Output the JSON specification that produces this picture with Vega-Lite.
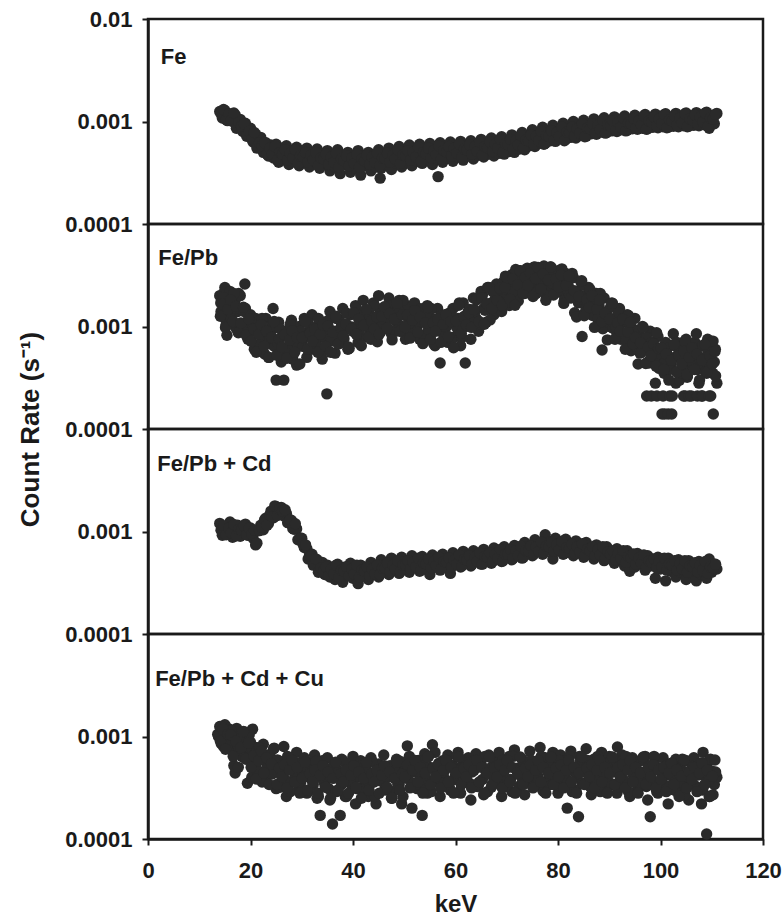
{
"$schema": "https://vega.github.io/schema/vega-lite/v6.json",
"background": "white",
"padding": {"left": 16, "top": 6, "right": 20, "bottom": 0},
"spacing": 0,
"bounds": "flush",
"config": {
 "font": "Liberation Sans",
 "view": {"stroke": "#1a1a1a", "strokeWidth": 2.5},
 "axis": {"labelFont": "Liberation Sans", "labelFontWeight": "bold", "labelFontSize": 22, "labelColor": "#1a1a1a", "titleFont": "Liberation Sans", "titleFontWeight": "bold", "titleFontSize": 26, "titleColor": "#1a1a1a", "tickColor": "#1a1a1a", "tickWidth": 2, "tickSize": 6, "domainColor": "#1a1a1a", "domainWidth": 2.5, "grid": false},
 "concat": {"spacing": 0}
},
"datasets": {
"fe": [
{"k":14.0,"c":12.5e-4},{"k":14.5,"c":10.8e-4},{"k":15.0,"c":12.8e-4},{"k":15.5,"c":10.2e-4},{"k":16.0,"c":11.8e-4},{"k":16.5,"c":10.0e-4},{"k":17.0,"c":11.6e-4},{"k":17.5,"c":9.0e-4},{"k":18.0,"c":10.5e-4},{"k":18.5,"c":8.0e-4},{"k":19.0,"c":9.6e-4},{"k":19.5,"c":7.2e-4},{"k":20.0,"c":8.6e-4},{"k":20.5,"c":6.3e-4},{"k":21.0,"c":7.5e-4},{"k":21.5,"c":5.6e-4},{"k":22.0,"c":7.0e-4},{"k":22.5,"c":5.0e-4},{"k":23.0,"c":6.2e-4},{"k":23.5,"c":4.6e-4},{"k":24.0,"c":5.9e-4},{"k":24.5,"c":4.4e-4},{"k":25.0,"c":6.0e-4},{"k":25.5,"c":4.0e-4},{"k":26.0,"c":5.5e-4},{"k":26.5,"c":4.2e-4},{"k":27.0,"c":5.8e-4},{"k":27.5,"c":3.8e-4},{"k":28.0,"c":5.2e-4},{"k":28.5,"c":4.3e-4},{"k":29.0,"c":5.6e-4},{"k":29.5,"c":3.7e-4},{"k":30.0,"c":5.1e-4},{"k":30.5,"c":4.0e-4},{"k":31.0,"c":5.5e-4},{"k":31.5,"c":3.6e-4},{"k":32.0,"c":4.9e-4},{"k":32.5,"c":4.1e-4},{"k":33.0,"c":5.4e-4},{"k":33.5,"c":3.5e-4},{"k":34.0,"c":4.8e-4},{"k":34.5,"c":3.9e-4},{"k":35.0,"c":5.2e-4},{"k":35.5,"c":3.3e-4},{"k":36.0,"c":4.6e-4},{"k":36.5,"c":3.6e-4},{"k":37.0,"c":5.3e-4},{"k":37.5,"c":3.1e-4},{"k":38.0,"c":4.5e-4},{"k":38.5,"c":3.8e-4},{"k":39.0,"c":5.0e-4},{"k":39.5,"c":3.2e-4},{"k":40.0,"c":4.4e-4},{"k":40.5,"c":3.5e-4},{"k":41.0,"c":5.2e-4},{"k":41.5,"c":3.0e-4},{"k":42.0,"c":4.6e-4},{"k":42.5,"c":3.7e-4},{"k":43.0,"c":5.0e-4},{"k":43.5,"c":3.3e-4},{"k":44.0,"c":4.7e-4},{"k":44.5,"c":3.6e-4},{"k":45.0,"c":5.3e-4},{"k":45.3,"c":2.8e-4},{"k":45.5,"c":3.5e-4},{"k":46.0,"c":4.8e-4},{"k":46.5,"c":3.7e-4},{"k":47.0,"c":5.5e-4},{"k":47.5,"c":3.4e-4},{"k":48.0,"c":4.9e-4},{"k":48.5,"c":3.9e-4},{"k":49.0,"c":5.7e-4},{"k":49.5,"c":3.6e-4},{"k":50.0,"c":5.0e-4},{"k":50.5,"c":4.0e-4},{"k":51.0,"c":5.9e-4},{"k":51.5,"c":3.7e-4},{"k":52.0,"c":5.1e-4},{"k":52.5,"c":4.1e-4},{"k":53.0,"c":6.0e-4},{"k":53.5,"c":3.9e-4},{"k":54.0,"c":5.2e-4},{"k":54.5,"c":4.2e-4},{"k":55.0,"c":6.1e-4},{"k":55.5,"c":3.8e-4},{"k":56.0,"c":5.3e-4},{"k":56.5,"c":4.3e-4},{"k":56.6,"c":2.9e-4},{"k":57.0,"c":6.2e-4},{"k":57.5,"c":4.0e-4},{"k":58.0,"c":5.4e-4},{"k":58.5,"c":4.4e-4},{"k":59.0,"c":6.3e-4},{"k":59.5,"c":4.1e-4},{"k":60.0,"c":5.5e-4},{"k":60.5,"c":4.5e-4},{"k":61.0,"c":6.4e-4},{"k":61.5,"c":4.2e-4},{"k":62.0,"c":5.6e-4},{"k":62.5,"c":4.6e-4},{"k":63.0,"c":6.5e-4},{"k":63.5,"c":4.3e-4},{"k":64.0,"c":5.7e-4},{"k":64.5,"c":4.7e-4},{"k":65.0,"c":6.7e-4},{"k":65.5,"c":4.5e-4},{"k":66.0,"c":5.9e-4},{"k":66.5,"c":4.8e-4},{"k":67.0,"c":6.9e-4},{"k":67.5,"c":4.6e-4},{"k":68.0,"c":6.0e-4},{"k":68.5,"c":4.9e-4},{"k":69.0,"c":7.1e-4},{"k":69.5,"c":4.8e-4},{"k":70.0,"c":6.2e-4},{"k":70.5,"c":5.1e-4},{"k":71.0,"c":7.4e-4},{"k":71.5,"c":5.0e-4},{"k":72.0,"c":6.5e-4},{"k":72.5,"c":5.4e-4},{"k":73.0,"c":7.8e-4},{"k":73.5,"c":5.3e-4},{"k":74.0,"c":6.9e-4},{"k":74.5,"c":5.8e-4},{"k":75.0,"c":8.3e-4},{"k":75.5,"c":5.7e-4},{"k":76.0,"c":7.3e-4},{"k":76.5,"c":6.2e-4},{"k":77.0,"c":8.8e-4},{"k":77.5,"c":6.1e-4},{"k":78.0,"c":7.7e-4},{"k":78.5,"c":6.5e-4},{"k":79.0,"c":9.2e-4},{"k":79.5,"c":6.4e-4},{"k":80.0,"c":8.0e-4},{"k":80.5,"c":6.8e-4},{"k":81.0,"c":9.6e-4},{"k":81.5,"c":6.7e-4},{"k":82.0,"c":8.3e-4},{"k":82.5,"c":7.0e-4},{"k":83.0,"c":10.0e-4},{"k":83.5,"c":6.9e-4},{"k":84.0,"c":8.6e-4},{"k":84.5,"c":7.3e-4},{"k":85.0,"c":10.3e-4},{"k":85.5,"c":7.2e-4},{"k":86.0,"c":8.9e-4},{"k":86.5,"c":7.6e-4},{"k":87.0,"c":10.6e-4},{"k":87.5,"c":7.5e-4},{"k":88.0,"c":9.1e-4},{"k":88.5,"c":7.9e-4},{"k":89.0,"c":10.9e-4},{"k":89.5,"c":7.8e-4},{"k":90.0,"c":9.4e-4},{"k":90.5,"c":8.1e-4},{"k":91.0,"c":11.1e-4},{"k":91.5,"c":8.0e-4},{"k":92.0,"c":9.6e-4},{"k":92.5,"c":8.3e-4},{"k":93.0,"c":11.3e-4},{"k":93.5,"c":8.2e-4},{"k":94.0,"c":9.8e-4},{"k":94.5,"c":8.5e-4},{"k":95.0,"c":11.5e-4},{"k":95.5,"c":8.4e-4},{"k":96.0,"c":10.0e-4},{"k":96.5,"c":8.6e-4},{"k":97.0,"c":11.7e-4},{"k":97.5,"c":8.5e-4},{"k":98.0,"c":10.1e-4},{"k":98.5,"c":8.8e-4},{"k":99.0,"c":11.8e-4},{"k":99.5,"c":8.7e-4},{"k":100.0,"c":10.3e-4},{"k":100.5,"c":8.9e-4},{"k":101.0,"c":11.9e-4},{"k":101.5,"c":8.8e-4},{"k":102.0,"c":10.4e-4},{"k":102.5,"c":9.0e-4},{"k":103.0,"c":12.0e-4},{"k":103.5,"c":8.9e-4},{"k":104.0,"c":10.5e-4},{"k":104.5,"c":9.1e-4},{"k":105.0,"c":12.1e-4},{"k":105.5,"c":9.0e-4},{"k":106.0,"c":10.6e-4},{"k":106.5,"c":9.2e-4},{"k":107.0,"c":12.2e-4},{"k":107.5,"c":9.1e-4},{"k":108.0,"c":10.7e-4},{"k":108.5,"c":9.3e-4},{"k":109.0,"c":12.3e-4},{"k":109.5,"c":8.6e-4},{"k":110.0,"c":11.2e-4},{"k":110.5,"c":9.5e-4},{"k":111.0,"c":12.0e-4},
{"k":14.25,"c":11.9e-4},{"k":14.75,"c":13.1e-4},{"k":15.25,"c":10.4e-4},{"k":15.75,"c":11.9e-4},{"k":16.25,"c":10.3e-4},{"k":16.75,"c":12.1e-4},{"k":17.25,"c":8.6e-4},{"k":17.75,"c":9.8e-4},{"k":18.25,"c":9.0e-4},{"k":18.75,"c":9.5e-4},{"k":19.25,"c":7.2e-4},{"k":19.75,"c":8.0e-4},{"k":20.25,"c":6.7e-4},{"k":20.75,"c":7.8e-4},{"k":21.25,"c":5.5e-4},{"k":21.75,"c":6.2e-4},{"k":22.25,"c":5.8e-4},{"k":22.75,"c":6.2e-4},{"k":23.25,"c":4.8e-4},{"k":23.75,"c":5.5e-4},{"k":24.25,"c":4.8e-4},{"k":24.75,"c":5.7e-4},{"k":25.25,"c":4.2e-4},{"k":25.75,"c":5.0e-4},{"k":26.25,"c":4.8e-4},{"k":26.75,"c":5.3e-4},{"k":27.25,"c":4.2e-4},{"k":27.75,"c":4.9e-4},{"k":28.25,"c":4.4e-4},{"k":28.75,"c":5.3e-4},{"k":29.25,"c":3.9e-4},{"k":29.75,"c":4.6e-4},{"k":30.25,"c":4.5e-4},{"k":30.75,"c":5.0e-4},{"k":31.25,"c":4.0e-4},{"k":31.75,"c":4.7e-4},{"k":32.25,"c":4.2e-4},{"k":32.75,"c":5.0e-4},{"k":33.25,"c":3.7e-4},{"k":33.75,"c":4.4e-4},{"k":34.25,"c":4.3e-4},{"k":34.75,"c":4.8e-4},{"k":35.25,"c":3.8e-4},{"k":35.75,"c":4.5e-4},{"k":36.25,"c":4.0e-4},{"k":36.75,"c":4.9e-4},{"k":37.25,"c":3.6e-4},{"k":37.75,"c":4.3e-4},{"k":38.25,"c":4.15e-4},{"k":38.75,"c":4.6e-4},{"k":39.25,"c":3.7e-4},{"k":39.75,"c":4.4e-4},{"k":40.25,"c":3.9e-4},{"k":40.75,"c":4.8e-4},{"k":41.25,"c":3.6e-4},{"k":41.75,"c":4.3e-4},{"k":42.25,"c":4.15e-4},{"k":42.75,"c":4.7e-4},{"k":43.25,"c":3.8e-4},{"k":43.75,"c":4.5e-4},{"k":44.25,"c":4.0e-4},{"k":44.75,"c":4.9e-4},{"k":45.25,"c":3.7e-4},{"k":45.75,"c":4.4e-4},{"k":46.25,"c":4.35e-4},{"k":46.75,"c":4.9e-4},{"k":47.25,"c":4.0e-4},{"k":47.75,"c":4.7e-4},{"k":48.25,"c":4.3e-4},{"k":48.75,"c":5.3e-4},{"k":49.25,"c":3.9e-4},{"k":49.75,"c":4.7e-4},{"k":50.25,"c":4.6e-4},{"k":50.75,"c":5.2e-4},{"k":51.25,"c":4.2e-4},{"k":51.75,"c":5.0e-4},{"k":52.25,"c":4.5e-4},{"k":52.75,"c":5.6e-4},{"k":53.25,"c":4.1e-4},{"k":53.75,"c":5.0e-4},{"k":54.25,"c":4.85e-4},{"k":54.75,"c":5.5e-4},{"k":55.25,"c":4.4e-4},{"k":55.75,"c":5.2e-4},{"k":56.25,"c":4.7e-4},{"k":56.75,"c":5.8e-4},{"k":57.25,"c":4.3e-4},{"k":57.75,"c":5.2e-4},{"k":58.25,"c":5.05e-4},{"k":58.75,"c":5.7e-4},{"k":59.25,"c":4.6e-4},{"k":59.75,"c":5.5e-4},{"k":60.25,"c":4.9e-4},{"k":60.75,"c":6.0e-4},{"k":61.25,"c":4.5e-4},{"k":61.75,"c":5.4e-4},{"k":62.25,"c":5.25e-4},{"k":62.75,"c":5.9e-4},{"k":63.25,"c":4.8e-4},{"k":63.75,"c":5.7e-4},{"k":64.25,"c":5.1e-4},{"k":64.75,"c":6.3e-4},{"k":65.25,"c":4.7e-4},{"k":65.75,"c":5.7e-4},{"k":66.25,"c":5.55e-4},{"k":66.75,"c":6.3e-4},{"k":67.25,"c":5.1e-4},{"k":67.75,"c":6.0e-4},{"k":68.25,"c":5.5e-4},{"k":68.75,"c":6.7e-4},{"k":69.25,"c":5.0e-4},{"k":69.75,"c":6.1e-4},{"k":70.25,"c":5.95e-4},{"k":70.75,"c":6.7e-4},{"k":71.25,"c":5.4e-4},{"k":71.75,"c":6.5e-4},{"k":72.25,"c":5.9e-4},{"k":72.75,"c":7.3e-4},{"k":73.25,"c":5.5e-4},{"k":73.75,"c":6.6e-4},{"k":74.25,"c":6.5e-4},{"k":74.75,"c":7.4e-4},{"k":75.25,"c":6.0e-4},{"k":75.75,"c":7.2e-4},{"k":76.25,"c":6.5e-4},{"k":76.75,"c":8.0e-4},{"k":77.25,"c":6.0e-4},{"k":77.75,"c":7.3e-4},{"k":78.25,"c":7.15e-4},{"k":78.75,"c":8.1e-4},{"k":79.25,"c":6.6e-4},{"k":79.75,"c":7.8e-4},{"k":80.25,"c":7.1e-4},{"k":80.75,"c":8.8e-4},{"k":81.25,"c":6.5e-4},{"k":81.75,"c":7.9e-4},{"k":82.25,"c":7.8e-4},{"k":82.75,"c":8.8e-4},{"k":83.25,"c":7.2e-4},{"k":83.75,"c":8.5e-4},{"k":84.25,"c":7.7e-4},{"k":84.75,"c":9.5e-4},{"k":85.25,"c":7.1e-4},{"k":85.75,"c":8.6e-4},{"k":86.25,"c":8.45e-4},{"k":86.75,"c":9.5e-4},{"k":87.25,"c":7.7e-4},{"k":87.75,"c":9.2e-4},{"k":88.25,"c":8.3e-4},{"k":88.75,"c":10.3e-4},{"k":89.25,"c":7.7e-4},{"k":89.75,"c":9.2e-4},{"k":90.25,"c":9.05e-4},{"k":90.75,"c":10.2e-4},{"k":91.25,"c":8.2e-4},{"k":91.75,"c":9.8e-4},{"k":92.25,"c":8.8e-4},{"k":92.75,"c":10.8e-4},{"k":93.25,"c":8.1e-4},{"k":93.75,"c":9.7e-4},{"k":94.25,"c":9.5e-4},{"k":94.75,"c":10.7e-4},{"k":95.25,"c":8.6e-4},{"k":95.75,"c":10.2e-4},{"k":96.25,"c":9.2e-4},{"k":96.75,"c":11.3e-4},{"k":97.25,"c":8.4e-4},{"k":97.75,"c":10.1e-4},{"k":98.25,"c":9.9e-4},{"k":98.75,"c":11.1e-4},{"k":99.25,"c":9.0e-4},{"k":99.75,"c":10.6e-4},{"k":100.25,"c":9.5e-4},{"k":100.75,"c":11.7e-4},{"k":101.25,"c":8.7e-4},{"k":101.75,"c":10.4e-4},{"k":102.25,"c":10.15e-4},{"k":102.75,"c":11.4e-4},{"k":103.25,"c":9.2e-4},{"k":103.75,"c":10.8e-4},{"k":104.25,"c":9.7e-4},{"k":104.75,"c":11.9e-4},{"k":105.25,"c":8.9e-4},{"k":105.75,"c":10.6e-4},{"k":106.25,"c":10.35e-4},{"k":106.75,"c":11.6e-4},{"k":107.25,"c":9.4e-4},{"k":107.75,"c":11.0e-4},{"k":108.25,"c":9.9e-4},{"k":108.75,"c":12.1e-4},{"k":109.25,"c":9.0e-4},{"k":109.75,"c":10.8e-4},{"k":110.25,"c":10.5e-4},{"k":110.75,"c":11.8e-4}
],
"fepb": [
{"k":14.0,"c":20e-4},{"k":14.2,"c":17e-4},{"k":14.5,"c":13e-4},{"k":14.7,"c":21e-4},{"k":15.0,"c":24e-4},{"k":15.2,"c":12e-4},{"k":15.4,"c":8.2e-4},{"k":15.5,"c":16e-4},{"k":15.7,"c":19e-4},{"k":16.0,"c":22e-4},{"k":16.2,"c":14e-4},{"k":16.5,"c":11e-4},{"k":16.7,"c":17e-4},{"k":17.0,"c":18e-4},{"k":17.2,"c":10e-4},{"k":17.5,"c":14e-4},{"k":17.7,"c":21e-4},{"k":18.0,"c":20e-4},{"k":18.5,"c":9.5e-4},{"k":18.9,"c":26e-4},{"k":19.0,"c":15e-4},{"k":19.5,"c":7.5e-4},{"k":20.0,"c":13e-4},{"k":20.5,"c":9e-4},{"k":21.0,"c":12e-4},{"k":21.5,"c":6e-4},{"k":22.0,"c":10e-4},{"k":22.5,"c":7.5e-4},{"k":23.0,"c":12e-4},{"k":23.5,"c":5e-4},{"k":24.0,"c":9e-4},{"k":24.4,"c":15e-4},{"k":24.5,"c":6.5e-4},{"k":25.0,"c":3.0e-4},{"k":25.5,"c":11e-4},{"k":26.0,"c":4.5e-4},{"k":26.5,"c":3.0e-4},{"k":27.0,"c":9e-4},{"k":27.5,"c":5.5e-4},{"k":28.0,"c":11.5e-4},{"k":28.5,"c":6.5e-4},{"k":29.0,"c":4.2e-4},{"k":29.5,"c":10e-4},{"k":30.0,"c":7e-4},{"k":30.5,"c":12e-4},{"k":31.0,"c":5e-4},{"k":31.5,"c":9e-4},{"k":32.0,"c":13e-4},{"k":32.5,"c":6e-4},{"k":33.0,"c":10e-4},{"k":33.5,"c":8e-4},{"k":34.0,"c":4.8e-4},{"k":34.5,"c":11e-4},{"k":34.9,"c":2.2e-4},{"k":35.0,"c":7e-4},{"k":35.5,"c":14e-4},{"k":36.0,"c":9e-4},{"k":36.5,"c":5.5e-4},{"k":37.0,"c":12e-4},{"k":37.5,"c":8e-4},{"k":38.0,"c":15e-4},{"k":38.5,"c":10e-4},{"k":39.0,"c":6e-4},{"k":39.5,"c":13e-4},{"k":40.0,"c":9e-4},{"k":40.5,"c":16e-4},{"k":41.0,"c":7e-4},{"k":41.5,"c":12e-4},{"k":42.0,"c":18e-4},{"k":42.5,"c":10e-4},{"k":43.0,"c":14e-4},{"k":43.5,"c":7.5e-4},{"k":44.0,"c":17e-4},{"k":44.5,"c":11e-4},{"k":45.0,"c":20e-4},{"k":45.5,"c":9e-4},{"k":46.0,"c":15e-4},{"k":46.5,"c":12e-4},{"k":47.0,"c":19e-4},{"k":47.5,"c":8.5e-4},{"k":48.0,"c":14e-4},{"k":48.5,"c":11e-4},{"k":49.0,"c":18e-4},{"k":49.5,"c":9e-4},{"k":50.0,"c":13e-4},{"k":50.5,"c":16e-4},{"k":51.0,"c":8e-4},{"k":51.5,"c":12e-4},{"k":52.0,"c":17e-4},{"k":52.5,"c":10e-4},{"k":53.0,"c":7.5e-4},{"k":53.5,"c":14e-4},{"k":54.0,"c":11e-4},{"k":54.5,"c":16e-4},{"k":55.0,"c":8e-4},{"k":55.5,"c":12e-4},{"k":56.0,"c":6.5e-4},{"k":56.5,"c":15e-4},{"k":57.0,"c":4.4e-4},{"k":57.5,"c":10e-4},{"k":58.0,"c":13e-4},{"k":58.5,"c":7e-4},{"k":59.0,"c":11e-4},{"k":59.5,"c":15e-4},{"k":60.0,"c":8e-4},{"k":60.5,"c":12e-4},{"k":61.0,"c":6.5e-4},{"k":61.5,"c":17e-4},{"k":61.9,"c":4.4e-4},{"k":62.0,"c":10e-4},{"k":62.5,"c":14e-4},{"k":63.0,"c":7.5e-4},{"k":63.5,"c":19e-4},{"k":64.0,"c":12e-4},{"k":64.5,"c":9e-4},{"k":65.0,"c":22e-4},{"k":65.5,"c":15e-4},{"k":66.0,"c":11e-4},{"k":66.5,"c":24e-4},{"k":67.0,"c":17e-4},{"k":67.5,"c":13e-4},{"k":68.0,"c":26e-4},{"k":68.5,"c":19e-4},{"k":69.0,"c":14e-4},{"k":69.5,"c":28e-4},{"k":70.0,"c":21e-4},{"k":70.5,"c":16e-4},{"k":71.0,"c":32e-4},{"k":71.5,"c":24e-4},{"k":72.0,"c":19e-4},{"k":72.5,"c":35e-4},{"k":73.0,"c":27e-4},{"k":73.5,"c":21e-4},{"k":74.0,"c":37e-4},{"k":74.5,"c":29e-4},{"k":75.0,"c":23e-4},{"k":75.5,"c":38e-4},{"k":76.0,"c":31e-4},{"k":76.5,"c":25e-4},{"k":77.0,"c":36e-4},{"k":77.5,"c":28e-4},{"k":78.0,"c":22e-4},{"k":78.5,"c":38e-4},{"k":79.0,"c":30e-4},{"k":79.5,"c":24e-4},{"k":80.0,"c":35e-4},{"k":80.5,"c":27e-4},{"k":81.0,"c":21e-4},{"k":81.5,"c":33e-4},{"k":82.0,"c":25e-4},{"k":82.5,"c":19e-4},{"k":83.0,"c":30e-4},{"k":83.5,"c":22e-4},{"k":84.0,"c":17e-4},{"k":84.5,"c":27e-4},{"k":84.7,"c":8e-4},{"k":85.0,"c":20e-4},{"k":85.5,"c":15e-4},{"k":86.0,"c":24e-4},{"k":86.5,"c":18e-4},{"k":87.0,"c":13e-4},{"k":87.5,"c":21e-4},{"k":88.0,"c":16e-4},{"k":88.5,"c":11e-4},{"k":88.6,"c":5.9e-4},{"k":89.0,"c":19e-4},{"k":89.5,"c":14e-4},{"k":90.0,"c":10e-4},{"k":90.5,"c":17e-4},{"k":91.0,"c":12e-4},{"k":91.5,"c":8.5e-4},{"k":92.0,"c":15e-4},{"k":92.5,"c":11e-4},{"k":93.0,"c":7.5e-4},{"k":93.5,"c":13e-4},{"k":94.0,"c":9.5e-4},{"k":94.5,"c":6.5e-4},{"k":95.0,"c":12e-4},{"k":95.5,"c":8.5e-4},{"k":96.0,"c":5.5e-4},{"k":96.5,"c":10e-4},{"k":97.0,"c":7.5e-4},{"k":97.3,"c":2.1e-4},{"k":97.5,"c":4.5e-4},{"k":98.0,"c":9e-4},{"k":98.2,"c":2.1e-4},{"k":98.5,"c":6e-4},{"k":99.0,"c":2.8e-4},{"k":99.3,"c":2.1e-4},{"k":99.5,"c":8e-4},{"k":100.0,"c":5e-4},{"k":100.2,"c":6e-4},{"k":100.3,"c":1.4e-4},{"k":100.5,"c":2.1e-4},{"k":100.7,"c":3.5e-4},{"k":100.8,"c":1.4e-4},{"k":101.0,"c":7e-4},{"k":101.2,"c":5.5e-4},{"k":101.5,"c":1.4e-4},{"k":101.7,"c":4e-4},{"k":101.8,"c":2.1e-4},{"k":102.0,"c":4.2e-4},{"k":102.2,"c":1.4e-4},{"k":102.3,"c":2.1e-4},{"k":102.5,"c":8.5e-4},{"k":102.7,"c":5e-4},{"k":103.0,"c":2.8e-4},{"k":103.2,"c":7e-4},{"k":103.5,"c":6e-4},{"k":103.7,"c":3e-4},{"k":104.0,"c":3.5e-4},{"k":104.2,"c":6.5e-4},{"k":104.5,"c":2.1e-4},{"k":104.7,"c":5e-4},{"k":104.8,"c":2.1e-4},{"k":105.0,"c":7.5e-4},{"k":105.2,"c":3.2e-4},{"k":105.5,"c":4.5e-4},{"k":105.6,"c":2.1e-4},{"k":105.7,"c":6e-4},{"k":106.0,"c":2.1e-4},{"k":106.2,"c":4e-4},{"k":106.5,"c":5.5e-4},{"k":106.7,"c":7e-4},{"k":107.0,"c":8.5e-4},{"k":107.2,"c":2.1e-4},{"k":107.5,"c":2.8e-4},{"k":107.7,"c":5e-4},{"k":108.0,"c":2.1e-4},{"k":108.2,"c":2.1e-4},{"k":108.5,"c":6.5e-4},{"k":108.7,"c":4e-4},{"k":109.0,"c":3.5e-4},{"k":109.2,"c":7.5e-4},{"k":109.5,"c":2.1e-4},{"k":109.7,"c":5e-4},{"k":109.8,"c":2.1e-4},{"k":110.0,"c":7e-4},{"k":110.2,"c":3.5e-4},{"k":110.3,"c":1.4e-4},{"k":110.5,"c":4.5e-4},{"k":110.7,"c":6e-4},{"k":111.0,"c":2.8e-4},
{"k":14.25,"c":14e-4},{"k":14.75,"c":19e-4},{"k":15.25,"c":10.5e-4},{"k":15.75,"c":17e-4},{"k":16.25,"c":12e-4},{"k":16.75,"c":21e-4},{"k":17.25,"c":9.5e-4},{"k":17.75,"c":15e-4},{"k":18.25,"c":10e-4},{"k":18.75,"c":14e-4},{"k":19.25,"c":8.8e-4},{"k":19.75,"c":11e-4},{"k":20.25,"c":10.8e-4},{"k":20.75,"c":6e-4},{"k":21.25,"c":9.6e-4},{"k":21.75,"c":6.8e-4},{"k":22.25,"c":12e-4},{"k":22.75,"c":5.4e-4},{"k":23.25,"c":8.8e-4},{"k":23.75,"c":7.4e-4},{"k":24.25,"c":10.2e-4},{"k":24.75,"c":6.4e-4},{"k":25.25,"c":7e-4},{"k":25.75,"c":9.5e-4},{"k":26.25,"c":5.2e-4},{"k":26.75,"c":8.4e-4},{"k":27.25,"c":6e-4},{"k":27.75,"c":10.5e-4},{"k":28.25,"c":4.8e-4},{"k":28.75,"c":7.7e-4},{"k":29.25,"c":6.4e-4},{"k":29.75,"c":9e-4},{"k":30.25,"c":6.4e-4},{"k":30.75,"c":8e-4},{"k":31.25,"c":10.8e-4},{"k":31.75,"c":6e-4},{"k":32.25,"c":9.6e-4},{"k":32.75,"c":6.8e-4},{"k":33.25,"c":12e-4},{"k":33.75,"c":5.4e-4},{"k":34.25,"c":8.8e-4},{"k":34.75,"c":7.4e-4},{"k":35.25,"c":11.5e-4},{"k":35.75,"c":7.2e-4},{"k":36.25,"c":9e-4},{"k":36.75,"c":12e-4},{"k":37.25,"c":6.8e-4},{"k":37.75,"c":10.8e-4},{"k":38.25,"c":7.6e-4},{"k":38.75,"c":13.5e-4},{"k":39.25,"c":6.1e-4},{"k":39.75,"c":9.9e-4},{"k":40.25,"c":9.7e-4},{"k":40.75,"c":13.4e-4},{"k":41.25,"c":8.4e-4},{"k":41.75,"c":10.5e-4},{"k":42.25,"c":14.2e-4},{"k":42.75,"c":7.9e-4},{"k":43.25,"c":12.6e-4},{"k":43.75,"c":8.9e-4},{"k":44.25,"c":15.8e-4},{"k":44.75,"c":7.1e-4},{"k":45.25,"c":13.2e-4},{"k":45.75,"c":11e-4},{"k":46.25,"c":15.4e-4},{"k":46.75,"c":9.6e-4},{"k":47.25,"c":12e-4},{"k":47.75,"c":16.2e-4},{"k":48.25,"c":9e-4},{"k":48.75,"c":14.4e-4},{"k":49.25,"c":10.2e-4},{"k":49.75,"c":18e-4},{"k":50.25,"c":7.5e-4},{"k":50.75,"c":12.1e-4},{"k":51.25,"c":10.1e-4},{"k":51.75,"c":14.1e-4},{"k":52.25,"c":8.8e-4},{"k":52.75,"c":11e-4},{"k":53.25,"c":14.9e-4},{"k":53.75,"c":8.2e-4},{"k":54.25,"c":13.2e-4},{"k":54.75,"c":9.4e-4},{"k":55.25,"c":15e-4},{"k":55.75,"c":6.8e-4},{"k":56.25,"c":11e-4},{"k":56.75,"c":9.2e-4},{"k":57.25,"c":12.8e-4},{"k":57.75,"c":8e-4},{"k":58.25,"c":10e-4},{"k":58.75,"c":13.5e-4},{"k":59.25,"c":7.5e-4},{"k":59.75,"c":12e-4},{"k":60.25,"c":9.8e-4},{"k":60.75,"c":17e-4},{"k":61.25,"c":7.8e-4},{"k":61.75,"c":12.6e-4},{"k":62.25,"c":10.6e-4},{"k":62.75,"c":14.7e-4},{"k":63.25,"c":11.2e-4},{"k":63.75,"c":14e-4},{"k":64.25,"c":19e-4},{"k":64.75,"c":10.5e-4},{"k":65.25,"c":20.4e-4},{"k":65.75,"c":14.4e-4},{"k":66.25,"c":24e-4},{"k":66.75,"c":11.6e-4},{"k":67.25,"c":22e-4},{"k":67.75,"c":18.4e-4},{"k":68.25,"c":25.6e-4},{"k":68.75,"c":16e-4},{"k":69.25,"c":23e-4},{"k":69.75,"c":31e-4},{"k":70.25,"c":17.2e-4},{"k":70.75,"c":27.6e-4},{"k":71.25,"c":22e-4},{"k":71.75,"c":36e-4},{"k":72.25,"c":17.7e-4},{"k":72.75,"c":28.6e-4},{"k":73.25,"c":25.8e-4},{"k":73.75,"c":35.8e-4},{"k":74.25,"c":22.4e-4},{"k":74.75,"c":28e-4},{"k":75.25,"c":37.8e-4},{"k":75.75,"c":21e-4},{"k":76.25,"c":34.8e-4},{"k":76.75,"c":24.6e-4},{"k":77.25,"c":39e-4},{"k":77.75,"c":19.7e-4},{"k":78.25,"c":31.9e-4},{"k":78.75,"c":26.7e-4},{"k":79.25,"c":34.6e-4},{"k":79.75,"c":21.6e-4},{"k":80.25,"c":27e-4},{"k":80.75,"c":36.5e-4},{"k":81.25,"c":18e-4},{"k":81.75,"c":28.8e-4},{"k":82.25,"c":20.4e-4},{"k":82.75,"c":33e-4},{"k":83.25,"c":13.6e-4},{"k":83.75,"c":22e-4},{"k":84.25,"c":18.4e-4},{"k":84.75,"c":25.6e-4},{"k":85.25,"c":13.6e-4},{"k":85.75,"c":17e-4},{"k":86.25,"c":23e-4},{"k":86.75,"c":12.8e-4},{"k":87.25,"c":16.8e-4},{"k":87.75,"c":11.9e-4},{"k":88.25,"c":21e-4},{"k":88.75,"c":9.5e-4},{"k":89.25,"c":13.2e-4},{"k":89.75,"c":11e-4},{"k":90.25,"c":15.4e-4},{"k":90.75,"c":9.6e-4},{"k":91.25,"c":10e-4},{"k":91.75,"c":13.5e-4},{"k":92.25,"c":7.5e-4},{"k":92.75,"c":12e-4},{"k":93.25,"c":7.2e-4},{"k":93.75,"c":12.8e-4},{"k":94.25,"c":5.8e-4},{"k":94.75,"c":9.4e-4},{"k":95.25,"c":6.4e-4},{"k":95.75,"c":9e-4},{"k":96.25,"c":5.6e-4},{"k":96.75,"c":7e-4},{"k":97.25,"c":7.8e-4},{"k":97.75,"c":4.4e-4},{"k":98.25,"c":7e-4},{"k":98.75,"c":4.9e-4},{"k":99.25,"c":8.7e-4},{"k":99.75,"c":3.9e-4},{"k":100.25,"c":5.3e-4},{"k":100.75,"c":4.4e-4},{"k":101.25,"c":6.1e-4},{"k":101.75,"c":3.8e-4},{"k":102.25,"c":4.8e-4},{"k":102.75,"c":6.5e-4},{"k":103.25,"c":3.6e-4},{"k":103.75,"c":5.8e-4},{"k":104.25,"c":4.1e-4},{"k":104.75,"c":7.2e-4},{"k":105.25,"c":3.3e-4},{"k":105.75,"c":5.3e-4},{"k":106.25,"c":4.4e-4},{"k":106.75,"c":6.1e-4},{"k":107.25,"c":3.8e-4},{"k":107.75,"c":4.8e-4},{"k":108.25,"c":6.5e-4},{"k":108.75,"c":3.6e-4},{"k":109.25,"c":5.8e-4},{"k":109.75,"c":4.1e-4},{"k":110.25,"c":7.2e-4},{"k":110.75,"c":3.3e-4},
{"k":14.125,"c":12.6e-4},{"k":14.625,"c":16.5e-4},{"k":15.125,"c":9.8e-4},{"k":15.625,"c":14.7e-4},{"k":16.125,"c":18.2e-4},{"k":16.625,"c":11.2e-4},{"k":17.125,"c":15.7e-4},{"k":17.625,"c":8.7e-4},{"k":18.125,"c":10.8e-4},{"k":18.625,"c":15.4e-4},{"k":19.125,"c":8.25e-4},{"k":19.625,"c":11.9e-4},{"k":20.125,"c":7.2e-4},{"k":20.625,"c":9.4e-4},{"k":21.125,"c":5.6e-4},{"k":21.625,"c":8.4e-4},{"k":22.125,"c":10.4e-4},{"k":22.625,"c":6.4e-4},{"k":23.125,"c":9e-4},{"k":23.625,"c":5e-4},{"k":24.125,"c":7.8e-4},{"k":24.625,"c":11.2e-4},{"k":25.125,"c":5.25e-4},{"k":25.625,"c":7.6e-4},{"k":26.125,"c":6.3e-4},{"k":26.625,"c":8.3e-4},{"k":27.125,"c":4.9e-4},{"k":27.625,"c":7.35e-4},{"k":28.125,"c":9.1e-4},{"k":28.625,"c":5.6e-4},{"k":29.125,"c":7.8e-4},{"k":29.625,"c":4.3e-4},{"k":30.125,"c":7.8e-4},{"k":30.625,"c":11.2e-4},{"k":31.125,"c":6e-4},{"k":31.625,"c":8.6e-4},{"k":32.125,"c":7.2e-4},{"k":32.625,"c":9.4e-4},{"k":33.125,"c":5.6e-4},{"k":33.625,"c":8.4e-4},{"k":34.125,"c":10.4e-4},{"k":34.625,"c":6.4e-4},{"k":35.125,"c":10.1e-4},{"k":35.625,"c":5.6e-4},{"k":36.125,"c":8.8e-4},{"k":36.625,"c":12.6e-4},{"k":37.125,"c":6.75e-4},{"k":37.625,"c":9.7e-4},{"k":38.125,"c":8.1e-4},{"k":38.625,"c":10.6e-4},{"k":39.125,"c":6.3e-4},{"k":39.625,"c":9.45e-4},{"k":40.125,"c":13.6e-4},{"k":40.625,"c":8.4e-4},{"k":41.125,"c":11.8e-4},{"k":41.625,"c":6.5e-4},{"k":42.125,"c":10.3e-4},{"k":42.625,"c":14.7e-4},{"k":43.125,"c":7.9e-4},{"k":43.625,"c":11.3e-4},{"k":44.125,"c":9.45e-4},{"k":44.625,"c":12.4e-4},{"k":45.125,"c":8.4e-4},{"k":45.625,"c":12.6e-4},{"k":46.125,"c":15.6e-4},{"k":46.625,"c":9.6e-4},{"k":47.125,"c":13.4e-4},{"k":47.625,"c":7.4e-4},{"k":48.125,"c":11.8e-4},{"k":48.625,"c":16.8e-4},{"k":49.125,"c":9e-4},{"k":49.625,"c":13e-4},{"k":50.125,"c":9.9e-4},{"k":50.625,"c":13e-4},{"k":51.125,"c":7.7e-4},{"k":51.625,"c":11.5e-4},{"k":52.125,"c":14.3e-4},{"k":52.625,"c":8.8e-4},{"k":53.125,"c":12.3e-4},{"k":53.625,"c":6.8e-4},{"k":54.125,"c":10.8e-4},{"k":54.625,"c":15.4e-4},{"k":55.125,"c":7.5e-4},{"k":55.625,"c":10.8e-4},{"k":56.125,"c":9e-4},{"k":56.625,"c":11.8e-4},{"k":57.125,"c":7e-4},{"k":57.625,"c":10.5e-4},{"k":58.125,"c":13e-4},{"k":58.625,"c":8e-4},{"k":59.125,"c":11.2e-4},{"k":59.625,"c":6.2e-4},{"k":60.125,"c":11.3e-4},{"k":60.625,"c":16.1e-4},{"k":61.125,"c":8.6e-4},{"k":61.625,"c":12.4e-4},{"k":62.125,"c":10.35e-4},{"k":62.625,"c":13.6e-4},{"k":63.125,"c":9.8e-4},{"k":63.625,"c":14.7e-4},{"k":64.125,"c":18.2e-4},{"k":64.625,"c":11.2e-4},{"k":65.125,"c":19e-4},{"k":65.625,"c":10.5e-4},{"k":66.125,"c":16.7e-4},{"k":66.625,"c":23.8e-4},{"k":67.125,"c":15e-4},{"k":67.625,"c":21.6e-4},{"k":68.125,"c":18e-4},{"k":68.625,"c":23.6e-4},{"k":69.125,"c":16.1e-4},{"k":69.625,"c":24.2e-4},{"k":70.125,"c":29.9e-4},{"k":70.625,"c":18.4e-4},{"k":71.125,"c":29.1e-4},{"k":71.625,"c":16.1e-4},{"k":72.125,"c":25.5e-4},{"k":72.625,"c":35e-4},{"k":73.125,"c":21e-4},{"k":73.625,"c":30.2e-4},{"k":74.125,"c":25.2e-4},{"k":74.625,"c":33e-4},{"k":75.125,"c":19.6e-4},{"k":75.625,"c":29.4e-4},{"k":76.125,"c":37.7e-4},{"k":76.625,"c":23.2e-4},{"k":77.125,"c":32.5e-4},{"k":77.625,"c":18e-4},{"k":78.125,"c":28.4e-4},{"k":78.625,"c":38e-4},{"k":79.125,"c":20.25e-4},{"k":79.625,"c":29.2e-4},{"k":80.125,"c":24.3e-4},{"k":80.625,"c":31.9e-4},{"k":81.125,"c":16.8e-4},{"k":81.625,"c":25.2e-4},{"k":82.125,"c":31.2e-4},{"k":82.625,"c":19.2e-4},{"k":83.125,"c":22.4e-4},{"k":83.625,"c":12.4e-4},{"k":84.125,"c":19.6e-4},{"k":84.625,"c":28e-4},{"k":85.125,"c":12.75e-4},{"k":85.625,"c":18.4e-4},{"k":86.125,"c":15.3e-4},{"k":86.625,"c":20e-4},{"k":87.125,"c":9.8e-4},{"k":87.625,"c":14.7e-4},{"k":88.125,"c":18.2e-4},{"k":88.625,"c":11.2e-4},{"k":89.125,"c":13.4e-4},{"k":89.625,"c":7.4e-4},{"k":90.125,"c":11.8e-4},{"k":90.625,"c":16.8e-4},{"k":91.125,"c":7.5e-4},{"k":91.625,"c":10.8e-4},{"k":92.125,"c":9e-4},{"k":92.625,"c":11.8e-4},{"k":93.125,"c":6e-4},{"k":93.625,"c":8.9e-4},{"k":94.125,"c":11e-4},{"k":94.625,"c":6.8e-4},{"k":95.125,"c":7.8e-4},{"k":95.625,"c":4.3e-4},{"k":96.125,"c":6.9e-4},{"k":96.625,"c":9.8e-4},{"k":97.125,"c":4.35e-4},{"k":97.625,"c":6.3e-4},{"k":98.125,"c":5.2e-4},{"k":98.625,"c":6.8e-4},{"k":99.125,"c":4.1e-4},{"k":99.625,"c":6.1e-4},{"k":100.125,"c":6.2e-4},{"k":100.625,"c":3.8e-4},{"k":101.125,"c":5.4e-4},{"k":101.625,"c":3.0e-4},{"k":102.125,"c":4.7e-4},{"k":102.625,"c":6.7e-4},{"k":103.125,"c":3.6e-4},{"k":103.625,"c":5.2e-4},{"k":104.125,"c":4.3e-4},{"k":104.625,"c":5.7e-4},{"k":105.125,"c":3.4e-4},{"k":105.625,"c":5.0e-4},{"k":106.125,"c":6.2e-4},{"k":106.625,"c":3.8e-4},{"k":107.125,"c":5.4e-4},{"k":107.625,"c":3.0e-4},{"k":108.125,"c":4.7e-4},{"k":108.625,"c":6.7e-4},{"k":109.125,"c":3.6e-4},{"k":109.625,"c":5.2e-4},{"k":110.125,"c":4.3e-4},{"k":110.625,"c":5.7e-4}
],
"fepbcd": [
{"k":14.0,"c":12.0e-4},{"k":14.5,"c":9.2e-4},{"k":15.0,"c":11.0e-4},{"k":15.5,"c":9.8e-4},{"k":16.0,"c":12.4e-4},{"k":16.5,"c":8.8e-4},{"k":17.0,"c":10.6e-4},{"k":17.5,"c":11.5e-4},{"k":18.0,"c":9.0e-4},{"k":18.5,"c":10.0e-4},{"k":19.0,"c":11.8e-4},{"k":19.5,"c":9.2e-4},{"k":20.0,"c":10.8e-4},{"k":20.5,"c":8.6e-4},{"k":21.0,"c":7.4e-4},{"k":21.5,"c":10.2e-4},{"k":22.0,"c":11.5e-4},{"k":22.5,"c":10.4e-4},{"k":23.0,"c":13.5e-4},{"k":23.5,"c":12.0e-4},{"k":24.0,"c":15.8e-4},{"k":24.5,"c":13.6e-4},{"k":25.0,"c":17.5e-4},{"k":25.5,"c":14.8e-4},{"k":26.0,"c":17.2e-4},{"k":26.5,"c":14.2e-4},{"k":27.0,"c":15.0e-4},{"k":27.5,"c":12.4e-4},{"k":28.0,"c":12.8e-4},{"k":28.5,"c":10.5e-4},{"k":29.0,"c":10.6e-4},{"k":29.5,"c":8.5e-4},{"k":30.0,"c":8.6e-4},{"k":30.5,"c":7.0e-4},{"k":31.0,"c":6.8e-4},{"k":31.5,"c":5.8e-4},{"k":32.0,"c":6.0e-4},{"k":32.5,"c":4.8e-4},{"k":33.0,"c":5.3e-4},{"k":33.5,"c":4.2e-4},{"k":34.0,"c":5.0e-4},{"k":34.5,"c":3.8e-4},{"k":35.0,"c":4.7e-4},{"k":35.5,"c":3.6e-4},{"k":36.0,"c":4.4e-4},{"k":36.5,"c":3.4e-4},{"k":37.0,"c":4.8e-4},{"k":37.5,"c":3.9e-4},{"k":38.0,"c":3.2e-4},{"k":38.5,"c":4.5e-4},{"k":39.0,"c":3.7e-4},{"k":39.5,"c":4.9e-4},{"k":40.0,"c":3.5e-4},{"k":40.5,"c":4.3e-4},{"k":41.0,"c":3.1e-4},{"k":41.5,"c":4.7e-4},{"k":42.0,"c":3.8e-4},{"k":42.5,"c":4.4e-4},{"k":43.0,"c":3.4e-4},{"k":43.5,"c":5.0e-4},{"k":44.0,"c":3.9e-4},{"k":44.5,"c":4.5e-4},{"k":45.0,"c":3.6e-4},{"k":45.5,"c":5.3e-4},{"k":46.0,"c":4.1e-4},{"k":46.5,"c":4.8e-4},{"k":47.0,"c":3.8e-4},{"k":47.5,"c":5.5e-4},{"k":48.0,"c":4.3e-4},{"k":48.5,"c":5.0e-4},{"k":49.0,"c":3.9e-4},{"k":49.5,"c":5.6e-4},{"k":50.0,"c":4.4e-4},{"k":50.5,"c":5.1e-4},{"k":51.0,"c":4.0e-4},{"k":51.5,"c":5.8e-4},{"k":52.0,"c":4.5e-4},{"k":52.5,"c":5.2e-4},{"k":53.0,"c":4.1e-4},{"k":53.5,"c":5.7e-4},{"k":54.0,"c":4.6e-4},{"k":54.5,"c":5.3e-4},{"k":55.0,"c":3.8e-4},{"k":55.5,"c":5.9e-4},{"k":56.0,"c":4.5e-4},{"k":56.5,"c":5.4e-4},{"k":57.0,"c":4.2e-4},{"k":57.5,"c":6.0e-4},{"k":58.0,"c":4.7e-4},{"k":58.5,"c":5.5e-4},{"k":59.0,"c":3.9e-4},{"k":59.5,"c":6.2e-4},{"k":60.0,"c":4.8e-4},{"k":60.5,"c":5.7e-4},{"k":61.0,"c":4.5e-4},{"k":61.5,"c":6.4e-4},{"k":62.0,"c":5.0e-4},{"k":62.5,"c":5.9e-4},{"k":63.0,"c":4.6e-4},{"k":63.5,"c":6.5e-4},{"k":64.0,"c":5.1e-4},{"k":64.5,"c":6.0e-4},{"k":65.0,"c":4.8e-4},{"k":65.5,"c":6.7e-4},{"k":66.0,"c":5.3e-4},{"k":66.5,"c":6.2e-4},{"k":67.0,"c":4.9e-4},{"k":67.5,"c":6.9e-4},{"k":68.0,"c":5.5e-4},{"k":68.5,"c":6.4e-4},{"k":69.0,"c":5.1e-4},{"k":69.5,"c":7.1e-4},{"k":70.0,"c":5.6e-4},{"k":70.5,"c":6.6e-4},{"k":71.0,"c":5.3e-4},{"k":71.5,"c":7.3e-4},{"k":72.0,"c":5.8e-4},{"k":72.5,"c":6.9e-4},{"k":73.0,"c":5.5e-4},{"k":73.5,"c":7.8e-4},{"k":74.0,"c":6.1e-4},{"k":74.5,"c":7.2e-4},{"k":75.0,"c":5.8e-4},{"k":75.5,"c":8.3e-4},{"k":76.0,"c":6.4e-4},{"k":76.5,"c":7.6e-4},{"k":77.0,"c":6.0e-4},{"k":77.5,"c":9.3e-4},{"k":78.0,"c":6.6e-4},{"k":78.5,"c":8.0e-4},{"k":79.0,"c":5.4e-4},{"k":79.5,"c":8.6e-4},{"k":80.0,"c":6.5e-4},{"k":80.5,"c":7.8e-4},{"k":81.0,"c":6.0e-4},{"k":81.5,"c":8.4e-4},{"k":82.0,"c":6.4e-4},{"k":82.5,"c":7.5e-4},{"k":83.0,"c":5.8e-4},{"k":83.5,"c":8.1e-4},{"k":84.0,"c":6.2e-4},{"k":84.5,"c":7.2e-4},{"k":85.0,"c":5.6e-4},{"k":85.5,"c":7.8e-4},{"k":86.0,"c":6.0e-4},{"k":86.5,"c":6.9e-4},{"k":87.0,"c":5.4e-4},{"k":87.5,"c":7.4e-4},{"k":88.0,"c":5.8e-4},{"k":88.5,"c":6.6e-4},{"k":89.0,"c":5.2e-4},{"k":89.5,"c":7.1e-4},{"k":90.0,"c":5.5e-4},{"k":90.5,"c":6.3e-4},{"k":91.0,"c":4.9e-4},{"k":91.5,"c":6.8e-4},{"k":92.0,"c":5.3e-4},{"k":92.5,"c":6.0e-4},{"k":93.0,"c":4.6e-4},{"k":93.5,"c":6.5e-4},{"k":94.0,"c":4.1e-4},{"k":94.5,"c":5.7e-4},{"k":95.0,"c":4.5e-4},{"k":95.5,"c":6.1e-4},{"k":96.0,"c":4.8e-4},{"k":96.5,"c":5.4e-4},{"k":97.0,"c":4.2e-4},{"k":97.5,"c":5.8e-4},{"k":98.0,"c":4.6e-4},{"k":98.5,"c":5.2e-4},{"k":99.0,"c":3.5e-4},{"k":99.5,"c":5.6e-4},{"k":100.0,"c":4.3e-4},{"k":100.5,"c":5.0e-4},{"k":101.0,"c":3.3e-4},{"k":101.5,"c":5.5e-4},{"k":102.0,"c":4.1e-4},{"k":102.5,"c":4.8e-4},{"k":103.0,"c":3.6e-4},{"k":103.5,"c":5.3e-4},{"k":104.0,"c":4.0e-4},{"k":104.5,"c":4.6e-4},{"k":105.0,"c":3.4e-4},{"k":105.5,"c":5.2e-4},{"k":106.0,"c":3.9e-4},{"k":106.5,"c":4.5e-4},{"k":107.0,"c":3.3e-4},{"k":107.5,"c":5.1e-4},{"k":108.0,"c":3.8e-4},{"k":108.5,"c":4.7e-4},{"k":109.0,"c":3.5e-4},{"k":109.5,"c":5.4e-4},{"k":110.0,"c":4.0e-4},{"k":110.5,"c":4.8e-4},{"k":111.0,"c":4.3e-4},
{"k":14.25,"c":10.3e-4},{"k":14.75,"c":11.3e-4},{"k":15.25,"c":9.3e-4},{"k":15.75,"c":10.8e-4},{"k":16.25,"c":9.7e-4},{"k":16.75,"c":11.7e-4},{"k":17.25,"c":9.1e-4},{"k":17.75,"c":10.5e-4},{"k":18.25,"c":10.3e-4},{"k":18.75,"c":11.3e-4},{"k":19.25,"c":9.3e-4},{"k":19.75,"c":10.8e-4},{"k":20.25,"c":9.4e-4},{"k":20.75,"c":10.3e-4},{"k":21.25,"c":7.7e-4},{"k":21.75,"c":10.2e-4},{"k":22.25,"c":11.0e-4},{"k":22.75,"c":13.0e-4},{"k":23.25,"c":11.5e-4},{"k":23.75,"c":14.5e-4},{"k":24.25,"c":13.9e-4},{"k":24.75,"c":17.8e-4},{"k":25.25,"c":14.3e-4},{"k":25.75,"c":16.5e-4},{"k":26.25,"c":15.8e-4},{"k":26.75,"c":16.3e-4},{"k":27.25,"c":12.2e-4},{"k":27.75,"c":13.0e-4},{"k":28.25,"c":10.7e-4},{"k":28.75,"c":11.9e-4},{"k":29.25,"c":8.3e-4},{"k":29.75,"c":8.6e-4},{"k":30.25,"c":7.5e-4},{"k":30.75,"c":7.4e-4},{"k":31.25,"c":5.4e-4},{"k":31.75,"c":5.7e-4},{"k":32.25,"c":4.7e-4},{"k":32.75,"c":5.4e-4},{"k":33.25,"c":4.0e-4},{"k":33.75,"c":4.4e-4},{"k":34.25,"c":4.1e-4},{"k":34.75,"c":4.5e-4},{"k":35.25,"c":3.7e-4},{"k":35.75,"c":4.3e-4},{"k":36.25,"c":3.85e-4},{"k":36.75,"c":4.7e-4},{"k":37.25,"c":3.6e-4},{"k":37.75,"c":4.2e-4},{"k":38.25,"c":4.1e-4},{"k":38.75,"c":4.5e-4},{"k":39.25,"c":3.7e-4},{"k":39.75,"c":4.3e-4},{"k":40.25,"c":3.85e-4},{"k":40.75,"c":4.7e-4},{"k":41.25,"c":3.6e-4},{"k":41.75,"c":4.2e-4},{"k":42.25,"c":4.1e-4},{"k":42.75,"c":4.5e-4},{"k":43.25,"c":3.7e-4},{"k":43.75,"c":4.3e-4},{"k":44.25,"c":3.85e-4},{"k":44.75,"c":4.7e-4},{"k":45.25,"c":3.8e-4},{"k":45.75,"c":4.4e-4},{"k":46.25,"c":4.4e-4},{"k":46.75,"c":4.9e-4},{"k":47.25,"c":4.05e-4},{"k":47.75,"c":4.7e-4},{"k":48.25,"c":4.3e-4},{"k":48.75,"c":5.2e-4},{"k":49.25,"c":4.05e-4},{"k":49.75,"c":4.7e-4},{"k":50.25,"c":4.7e-4},{"k":50.75,"c":5.2e-4},{"k":51.25,"c":4.3e-4},{"k":51.75,"c":5.0e-4},{"k":52.25,"c":4.5e-4},{"k":52.75,"c":5.5e-4},{"k":53.25,"c":4.2e-4},{"k":53.75,"c":4.95e-4},{"k":54.25,"c":4.85e-4},{"k":54.75,"c":5.4e-4},{"k":55.25,"c":4.4e-4},{"k":55.75,"c":5.1e-4},{"k":56.25,"c":4.65e-4},{"k":56.75,"c":5.6e-4},{"k":57.25,"c":4.35e-4},{"k":57.75,"c":5.1e-4},{"k":58.25,"c":5.0e-4},{"k":58.75,"c":5.5e-4},{"k":59.25,"c":4.5e-4},{"k":59.75,"c":5.25e-4},{"k":60.25,"c":4.8e-4},{"k":60.75,"c":5.9e-4},{"k":61.25,"c":4.6e-4},{"k":61.75,"c":5.35e-4},{"k":62.25,"c":5.25e-4},{"k":62.75,"c":5.8e-4},{"k":63.25,"c":4.8e-4},{"k":63.75,"c":5.6e-4},{"k":64.25,"c":5.1e-4},{"k":64.75,"c":6.2e-4},{"k":65.25,"c":4.8e-4},{"k":65.75,"c":5.7e-4},{"k":66.25,"c":5.6e-4},{"k":66.75,"c":6.2e-4},{"k":67.25,"c":5.1e-4},{"k":67.75,"c":6.0e-4},{"k":68.25,"c":5.45e-4},{"k":68.75,"c":6.7e-4},{"k":69.25,"c":5.15e-4},{"k":69.75,"c":6.0e-4},{"k":70.25,"c":6.0e-4},{"k":70.75,"c":6.7e-4},{"k":71.25,"c":5.5e-4},{"k":71.75,"c":6.5e-4},{"k":72.25,"c":5.8e-4},{"k":72.75,"c":7.2e-4},{"k":73.25,"c":5.6e-4},{"k":73.75,"c":6.5e-4},{"k":74.25,"c":6.45e-4},{"k":74.75,"c":7.2e-4},{"k":75.25,"c":6.0e-4},{"k":75.75,"c":7.1e-4},{"k":76.25,"c":6.4e-4},{"k":76.75,"c":7.9e-4},{"k":77.25,"c":6.2e-4},{"k":77.75,"c":7.2e-4},{"k":78.25,"c":7.1e-4},{"k":78.75,"c":7.8e-4},{"k":79.25,"c":6.4e-4},{"k":79.75,"c":7.4e-4},{"k":80.25,"c":6.6e-4},{"k":80.75,"c":8.0e-4},{"k":81.25,"c":6.1e-4},{"k":81.75,"c":7.0e-4},{"k":82.25,"c":6.85e-4},{"k":82.75,"c":7.5e-4},{"k":83.25,"c":6.1e-4},{"k":83.75,"c":7.1e-4},{"k":84.25,"c":6.3e-4},{"k":84.75,"c":7.6e-4},{"k":85.25,"c":5.8e-4},{"k":85.75,"c":6.7e-4},{"k":86.25,"c":6.5e-4},{"k":86.75,"c":7.1e-4},{"k":87.25,"c":5.8e-4},{"k":87.75,"c":6.7e-4},{"k":88.25,"c":5.9e-4},{"k":88.75,"c":7.1e-4},{"k":89.25,"c":5.5e-4},{"k":89.75,"c":6.3e-4},{"k":90.25,"c":6.0e-4},{"k":90.75,"c":6.5e-4},{"k":91.25,"c":5.3e-4},{"k":91.75,"c":6.1e-4},{"k":92.25,"c":5.45e-4},{"k":92.75,"c":6.5e-4},{"k":93.25,"c":5.0e-4},{"k":93.75,"c":5.7e-4},{"k":94.25,"c":5.55e-4},{"k":94.75,"c":6.05e-4},{"k":95.25,"c":4.8e-4},{"k":95.75,"c":5.5e-4},{"k":96.25,"c":4.9e-4},{"k":96.75,"c":5.9e-4},{"k":97.25,"c":4.5e-4},{"k":97.75,"c":5.15e-4},{"k":98.25,"c":5.0e-4},{"k":98.75,"c":5.4e-4},{"k":99.25,"c":4.4e-4},{"k":99.75,"c":5.1e-4},{"k":100.25,"c":4.5e-4},{"k":100.75,"c":5.5e-4},{"k":101.25,"c":4.2e-4},{"k":101.75,"c":4.85e-4},{"k":102.25,"c":4.7e-4},{"k":102.75,"c":5.2e-4},{"k":103.25,"c":4.2e-4},{"k":103.75,"c":4.9e-4},{"k":104.25,"c":4.3e-4},{"k":104.75,"c":5.2e-4},{"k":105.25,"c":4.0e-4},{"k":105.75,"c":4.6e-4},{"k":106.25,"c":4.5e-4},{"k":106.75,"c":4.95e-4},{"k":107.25,"c":4.05e-4},{"k":107.75,"c":4.7e-4},{"k":108.25,"c":4.2e-4},{"k":108.75,"c":5.1e-4},{"k":109.25,"c":3.9e-4},{"k":109.75,"c":4.5e-4},{"k":110.25,"c":4.4e-4},{"k":110.75,"c":4.8e-4}
],
"fepbcdcu": [
{"k":13.6,"c":10.5e-4},{"k":14.0,"c":12.5e-4},{"k":14.3,"c":8.5e-4},{"k":14.6,"c":11.0e-4},{"k":15.0,"c":13.0e-4},{"k":15.3,"c":9.2e-4},{"k":15.6,"c":12.0e-4},{"k":16.0,"c":7.8e-4},{"k":16.3,"c":11.5e-4},{"k":16.6,"c":9.8e-4},{"k":17.0,"c":4.4e-4},{"k":17.3,"c":12.0e-4},{"k":17.6,"c":8.2e-4},{"k":18.0,"c":10.5e-4},{"k":18.3,"c":6.4e-4},{"k":18.6,"c":9.0e-4},{"k":19.0,"c":11.0e-4},{"k":19.4,"c":3.5e-4},{"k":19.5,"c":7.2e-4},{"k":20.0,"c":8.8e-4},{"k":20.4,"c":11.8e-4},{"k":20.5,"c":5.5e-4},{"k":21.0,"c":7.8e-4},{"k":21.5,"c":4.6e-4},{"k":22.0,"c":6.8e-4},{"k":22.5,"c":8.4e-4},{"k":23.0,"c":3.8e-4},{"k":23.5,"c":6.2e-4},{"k":24.0,"c":5.0e-4},{"k":24.5,"c":7.6e-4},{"k":25.0,"c":3.1e-4},{"k":25.5,"c":5.8e-4},{"k":26.0,"c":4.2e-4},{"k":26.5,"c":8.0e-4},{"k":27.0,"c":2.6e-4},{"k":27.5,"c":6.0e-4},{"k":28.0,"c":3.6e-4},{"k":28.5,"c":5.2e-4},{"k":29.0,"c":7.0e-4},{"k":29.5,"c":3.1e-4},{"k":30.0,"c":4.8e-4},{"k":30.5,"c":6.2e-4},{"k":31.0,"c":2.8e-4},{"k":31.5,"c":5.5e-4},{"k":32.0,"c":3.8e-4},{"k":32.5,"c":6.6e-4},{"k":33.0,"c":2.5e-4},{"k":33.5,"c":4.6e-4},{"k":33.6,"c":1.7e-4},{"k":34.0,"c":5.8e-4},{"k":34.5,"c":3.4e-4},{"k":35.0,"c":6.2e-4},{"k":35.5,"c":2.4e-4},{"k":36.0,"c":1.4e-4},{"k":36.2,"c":4.2e-4},{"k":36.5,"c":5.4e-4},{"k":37.0,"c":3.0e-4},{"k":37.5,"c":1.7e-4},{"k":37.8,"c":6.0e-4},{"k":38.0,"c":4.0e-4},{"k":38.5,"c":2.6e-4},{"k":39.0,"c":5.2e-4},{"k":39.5,"c":3.5e-4},{"k":40.0,"c":6.4e-4},{"k":40.5,"c":2.2e-4},{"k":41.0,"c":4.5e-4},{"k":41.5,"c":5.8e-4},{"k":42.0,"c":3.2e-4},{"k":42.5,"c":5.0e-4},{"k":43.0,"c":2.6e-4},{"k":43.5,"c":6.2e-4},{"k":44.0,"c":3.8e-4},{"k":44.5,"c":2.2e-4},{"k":45.0,"c":5.4e-4},{"k":45.5,"c":4.2e-4},{"k":46.0,"c":6.6e-4},{"k":46.5,"c":3.0e-4},{"k":47.0,"c":5.0e-4},{"k":47.5,"c":2.5e-4},{"k":48.0,"c":4.4e-4},{"k":48.5,"c":6.0e-4},{"k":49.0,"c":3.4e-4},{"k":49.5,"c":2.2e-4},{"k":50.0,"c":5.2e-4},{"k":50.5,"c":3.9e-4},{"k":50.6,"c":8.1e-4},{"k":51.0,"c":6.4e-4},{"k":51.5,"c":2.0e-4},{"k":52.0,"c":4.6e-4},{"k":52.5,"c":3.1e-4},{"k":53.0,"c":5.6e-4},{"k":53.5,"c":1.7e-4},{"k":53.8,"c":4.0e-4},{"k":54.0,"c":6.8e-4},{"k":54.5,"c":2.8e-4},{"k":55.0,"c":5.0e-4},{"k":55.5,"c":8.3e-4},{"k":55.8,"c":3.6e-4},{"k":56.0,"c":7.0e-4},{"k":56.5,"c":4.5e-4},{"k":57.0,"c":2.6e-4},{"k":57.5,"c":5.8e-4},{"k":58.0,"c":3.8e-4},{"k":58.5,"c":6.6e-4},{"k":59.0,"c":3.0e-4},{"k":59.5,"c":5.2e-4},{"k":60.0,"c":4.2e-4},{"k":60.5,"c":7.0e-4},{"k":61.0,"c":2.8e-4},{"k":61.5,"c":5.6e-4},{"k":62.0,"c":3.6e-4},{"k":62.5,"c":6.2e-4},{"k":63.0,"c":2.4e-4},{"k":63.5,"c":4.8e-4},{"k":64.0,"c":6.8e-4},{"k":64.5,"c":3.4e-4},{"k":65.0,"c":5.4e-4},{"k":65.5,"c":2.7e-4},{"k":66.0,"c":4.4e-4},{"k":66.5,"c":6.6e-4},{"k":67.0,"c":3.2e-4},{"k":67.5,"c":5.8e-4},{"k":68.0,"c":4.0e-4},{"k":68.5,"c":7.0e-4},{"k":69.0,"c":2.6e-4},{"k":69.5,"c":5.0e-4},{"k":70.0,"c":3.8e-4},{"k":70.5,"c":6.4e-4},{"k":71.0,"c":2.9e-4},{"k":71.5,"c":7.4e-4},{"k":72.0,"c":4.6e-4},{"k":72.5,"c":3.3e-4},{"k":73.0,"c":6.0e-4},{"k":73.5,"c":2.7e-4},{"k":74.0,"c":5.2e-4},{"k":74.5,"c":7.2e-4},{"k":75.0,"c":3.6e-4},{"k":75.5,"c":5.6e-4},{"k":76.0,"c":4.2e-4},{"k":76.5,"c":7.8e-4},{"k":77.0,"c":3.0e-4},{"k":77.5,"c":6.2e-4},{"k":78.0,"c":4.8e-4},{"k":78.5,"c":3.4e-4},{"k":79.0,"c":7.0e-4},{"k":79.5,"c":5.4e-4},{"k":80.0,"c":2.8e-4},{"k":80.5,"c":6.6e-4},{"k":81.0,"c":4.0e-4},{"k":81.5,"c":5.8e-4},{"k":81.8,"c":2.0e-4},{"k":82.0,"c":3.4e-4},{"k":82.5,"c":7.2e-4},{"k":83.0,"c":4.6e-4},{"k":83.5,"c":3.0e-4},{"k":84.0,"c":1.65e-4},{"k":84.2,"c":6.4e-4},{"k":84.5,"c":5.0e-4},{"k":85.0,"c":3.5e-4},{"k":85.5,"c":7.6e-4},{"k":86.0,"c":4.4e-4},{"k":86.5,"c":2.7e-4},{"k":87.0,"c":6.0e-4},{"k":87.5,"c":3.8e-4},{"k":88.0,"c":5.4e-4},{"k":88.5,"c":7.0e-4},{"k":89.0,"c":3.1e-4},{"k":89.5,"c":4.8e-4},{"k":90.0,"c":6.4e-4},{"k":90.5,"c":3.4e-4},{"k":91.0,"c":5.6e-4},{"k":91.5,"c":2.8e-4},{"k":91.6,"c":7.9e-4},{"k":92.0,"c":4.6e-4},{"k":92.5,"c":6.6e-4},{"k":93.0,"c":3.6e-4},{"k":93.5,"c":5.2e-4},{"k":94.0,"c":2.6e-4},{"k":94.5,"c":6.2e-4},{"k":95.0,"c":4.2e-4},{"k":95.5,"c":3.0e-4},{"k":96.0,"c":5.8e-4},{"k":96.5,"c":4.0e-4},{"k":97.0,"c":6.4e-4},{"k":97.5,"c":2.4e-4},{"k":98.0,"c":1.65e-4},{"k":98.3,"c":5.0e-4},{"k":98.5,"c":3.4e-4},{"k":99.0,"c":6.0e-4},{"k":99.5,"c":2.8e-4},{"k":100.0,"c":4.6e-4},{"k":100.5,"c":6.2e-4},{"k":101.0,"c":3.2e-4},{"k":101.5,"c":2.2e-4},{"k":102.0,"c":5.4e-4},{"k":102.5,"c":4.0e-4},{"k":103.0,"c":6.0e-4},{"k":103.5,"c":2.8e-4},{"k":104.0,"c":4.8e-4},{"k":104.5,"c":3.4e-4},{"k":105.0,"c":5.8e-4},{"k":105.5,"c":2.4e-4},{"k":106.0,"c":4.4e-4},{"k":106.5,"c":6.2e-4},{"k":107.0,"c":3.2e-4},{"k":107.5,"c":5.0e-4},{"k":108.0,"c":2.2e-4},{"k":108.3,"c":7.0e-4},{"k":108.5,"c":4.2e-4},{"k":109.0,"c":1.12e-4},{"k":109.2,"c":5.6e-4},{"k":109.5,"c":2.6e-4},{"k":110.0,"c":4.6e-4},{"k":110.5,"c":3.4e-4},{"k":111.0,"c":4.0e-4},
{"k":13.75,"c":10e-4},{"k":14.25,"c":12.5e-4},{"k":14.75,"c":8e-4},{"k":15.25,"c":11.5e-4},{"k":15.75,"c":8.5e-4},{"k":16.25,"c":11.4e-4},{"k":16.75,"c":5.2e-4},{"k":17.25,"c":8.6e-4},{"k":17.75,"c":7.4e-4},{"k":18.25,"c":9.8e-4},{"k":18.75,"c":6.2e-4},{"k":19.25,"c":8e-4},{"k":19.75,"c":10.4e-4},{"k":20.25,"c":4.0e-4},{"k":20.75,"c":6.3e-4},{"k":21.25,"c":4.7e-4},{"k":21.75,"c":7.8e-4},{"k":22.25,"c":3.6e-4},{"k":22.75,"c":5.9e-4},{"k":23.25,"c":5.1e-4},{"k":23.75,"c":6.7e-4},{"k":24.25,"c":4.3e-4},{"k":24.75,"c":5.5e-4},{"k":25.25,"c":5.9e-4},{"k":25.75,"c":3.2e-4},{"k":26.25,"c":5.2e-4},{"k":26.75,"c":3.8e-4},{"k":27.25,"c":6.4e-4},{"k":27.75,"c":2.9e-4},{"k":28.25,"c":4.9e-4},{"k":28.75,"c":4.1e-4},{"k":29.25,"c":5.5e-4},{"k":29.75,"c":3.5e-4},{"k":30.25,"c":4.0e-4},{"k":30.75,"c":5.2e-4},{"k":31.25,"c":2.9e-4},{"k":31.75,"c":4.6e-4},{"k":32.25,"c":3.4e-4},{"k":32.75,"c":5.7e-4},{"k":33.25,"c":2.6e-4},{"k":33.75,"c":4.3e-4},{"k":34.25,"c":3.7e-4},{"k":34.75,"c":4.9e-4},{"k":35.25,"c":3.1e-4},{"k":35.75,"c":4.0e-4},{"k":36.25,"c":5.2e-4},{"k":36.75,"c":2.9e-4},{"k":37.25,"c":4.6e-4},{"k":37.75,"c":3.4e-4},{"k":38.25,"c":5.7e-4},{"k":38.75,"c":2.6e-4},{"k":39.25,"c":4.3e-4},{"k":39.75,"c":3.7e-4},{"k":40.25,"c":4.9e-4},{"k":40.75,"c":3.1e-4},{"k":41.25,"c":4.0e-4},{"k":41.75,"c":5.2e-4},{"k":42.25,"c":2.9e-4},{"k":42.75,"c":4.6e-4},{"k":43.25,"c":3.4e-4},{"k":43.75,"c":5.7e-4},{"k":44.25,"c":2.6e-4},{"k":44.75,"c":4.3e-4},{"k":45.25,"c":3.7e-4},{"k":45.75,"c":4.9e-4},{"k":46.25,"c":3.1e-4},{"k":46.75,"c":4.0e-4},{"k":47.25,"c":5.2e-4},{"k":47.75,"c":2.9e-4},{"k":48.25,"c":4.6e-4},{"k":48.75,"c":3.4e-4},{"k":49.25,"c":5.7e-4},{"k":49.75,"c":2.6e-4},{"k":50.25,"c":4.9e-4},{"k":50.75,"c":4.1e-4},{"k":51.25,"c":5.5e-4},{"k":51.75,"c":3.5e-4},{"k":52.25,"c":4.5e-4},{"k":52.75,"c":5.85e-4},{"k":53.25,"c":3.25e-4},{"k":53.75,"c":5.2e-4},{"k":54.25,"c":3.8e-4},{"k":54.75,"c":6.4e-4},{"k":55.25,"c":2.9e-4},{"k":55.75,"c":4.9e-4},{"k":56.25,"c":4.1e-4},{"k":56.75,"c":5.5e-4},{"k":57.25,"c":3.5e-4},{"k":57.75,"c":4.5e-4},{"k":58.25,"c":5.85e-4},{"k":58.75,"c":3.25e-4},{"k":59.25,"c":5.2e-4},{"k":59.75,"c":3.8e-4},{"k":60.25,"c":6.4e-4},{"k":60.75,"c":2.9e-4},{"k":61.25,"c":4.9e-4},{"k":61.75,"c":4.1e-4},{"k":62.25,"c":5.5e-4},{"k":62.75,"c":3.5e-4},{"k":63.25,"c":4.5e-4},{"k":63.75,"c":5.85e-4},{"k":64.25,"c":3.25e-4},{"k":64.75,"c":5.2e-4},{"k":65.25,"c":3.8e-4},{"k":65.75,"c":6.4e-4},{"k":66.25,"c":2.9e-4},{"k":66.75,"c":4.9e-4},{"k":67.25,"c":4.1e-4},{"k":67.75,"c":5.5e-4},{"k":68.25,"c":3.5e-4},{"k":68.75,"c":4.5e-4},{"k":69.25,"c":5.85e-4},{"k":69.75,"c":3.25e-4},{"k":70.25,"c":5.2e-4},{"k":70.75,"c":3.8e-4},{"k":71.25,"c":6.4e-4},{"k":71.75,"c":2.9e-4},{"k":72.25,"c":4.9e-4},{"k":72.75,"c":4.1e-4},{"k":73.25,"c":5.5e-4},{"k":73.75,"c":3.5e-4},{"k":74.25,"c":4.5e-4},{"k":74.75,"c":5.85e-4},{"k":75.25,"c":3.25e-4},{"k":75.75,"c":5.2e-4},{"k":76.25,"c":3.8e-4},{"k":76.75,"c":6.4e-4},{"k":77.25,"c":2.9e-4},{"k":77.75,"c":4.9e-4},{"k":78.25,"c":4.1e-4},{"k":78.75,"c":5.5e-4},{"k":79.25,"c":3.5e-4},{"k":79.75,"c":4.5e-4},{"k":80.25,"c":5.85e-4},{"k":80.75,"c":3.25e-4},{"k":81.25,"c":5.2e-4},{"k":81.75,"c":3.8e-4},{"k":82.25,"c":6.4e-4},{"k":82.75,"c":2.9e-4},{"k":83.25,"c":4.9e-4},{"k":83.75,"c":4.1e-4},{"k":84.25,"c":5.5e-4},{"k":84.75,"c":3.5e-4},{"k":85.25,"c":4.5e-4},{"k":85.75,"c":5.85e-4},{"k":86.25,"c":3.25e-4},{"k":86.75,"c":5.2e-4},{"k":87.25,"c":3.8e-4},{"k":87.75,"c":6.4e-4},{"k":88.25,"c":2.9e-4},{"k":88.75,"c":4.9e-4},{"k":89.25,"c":4.1e-4},{"k":89.75,"c":5.5e-4},{"k":90.25,"c":3.5e-4},{"k":90.75,"c":4.5e-4},{"k":91.25,"c":5.85e-4},{"k":91.75,"c":3.25e-4},{"k":92.25,"c":5.2e-4},{"k":92.75,"c":3.8e-4},{"k":93.25,"c":6.4e-4},{"k":93.75,"c":2.9e-4},{"k":94.25,"c":4.9e-4},{"k":94.75,"c":4.1e-4},{"k":95.25,"c":5.5e-4},{"k":95.75,"c":3.5e-4},{"k":96.25,"c":4.5e-4},{"k":96.75,"c":5.85e-4},{"k":97.25,"c":3.25e-4},{"k":97.75,"c":5.2e-4},{"k":98.25,"c":3.8e-4},{"k":98.75,"c":6.4e-4},{"k":99.25,"c":2.9e-4},{"k":99.75,"c":4.9e-4},{"k":100.25,"c":3.9e-4},{"k":100.75,"c":5.1e-4},{"k":101.25,"c":3.3e-4},{"k":101.75,"c":4.2e-4},{"k":102.25,"c":5.5e-4},{"k":102.75,"c":3.0e-4},{"k":103.25,"c":4.8e-4},{"k":103.75,"c":3.6e-4},{"k":104.25,"c":6.0e-4},{"k":104.75,"c":2.7e-4},{"k":105.25,"c":4.5e-4},{"k":105.75,"c":3.9e-4},{"k":106.25,"c":5.1e-4},{"k":106.75,"c":3.3e-4},{"k":107.25,"c":4.2e-4},{"k":107.75,"c":5.5e-4},{"k":108.25,"c":3.0e-4},{"k":108.75,"c":4.8e-4},{"k":109.25,"c":3.6e-4},{"k":109.75,"c":6.0e-4},{"k":110.25,"c":2.7e-4},{"k":110.75,"c":4.5e-4},
{"k":14.125,"c":9e-4},{"k":14.625,"c":11.8e-4},{"k":15.125,"c":7.5e-4},{"k":15.625,"c":10.5e-4},{"k":16.125,"c":10.4e-4},{"k":16.625,"c":6.4e-4},{"k":17.125,"c":9e-4},{"k":17.625,"c":5e-4},{"k":18.125,"c":7.8e-4},{"k":18.625,"c":11.2e-4},{"k":19.125,"c":6e-4},{"k":19.625,"c":8.6e-4},{"k":20.125,"c":5e-4},{"k":20.625,"c":6.5e-4},{"k":21.125,"c":3.85e-4},{"k":21.625,"c":5.8e-4},{"k":22.125,"c":7.2e-4},{"k":22.625,"c":4.4e-4},{"k":23.125,"c":6.2e-4},{"k":23.625,"c":3.4e-4},{"k":24.125,"c":5.4e-4},{"k":24.625,"c":7.7e-4},{"k":25.125,"c":3.4e-4},{"k":25.625,"c":4.9e-4},{"k":26.125,"c":4.05e-4},{"k":26.625,"c":5.3e-4},{"k":27.125,"c":3.15e-4},{"k":27.625,"c":4.7e-4},{"k":28.125,"c":5.85e-4},{"k":28.625,"c":3.6e-4},{"k":29.125,"c":5.0e-4},{"k":29.625,"c":2.8e-4},{"k":30.125,"c":3.9e-4},{"k":30.625,"c":5.6e-4},{"k":31.125,"c":3.0e-4},{"k":31.625,"c":4.3e-4},{"k":32.125,"c":3.6e-4},{"k":32.625,"c":4.7e-4},{"k":33.125,"c":2.8e-4},{"k":33.625,"c":4.2e-4},{"k":34.125,"c":5.2e-4},{"k":34.625,"c":3.2e-4},{"k":35.125,"c":4.5e-4},{"k":35.625,"c":2.5e-4},{"k":36.125,"c":3.9e-4},{"k":36.625,"c":5.6e-4},{"k":37.125,"c":3.0e-4},{"k":37.625,"c":4.3e-4},{"k":38.125,"c":3.6e-4},{"k":38.625,"c":4.7e-4},{"k":39.125,"c":2.8e-4},{"k":39.625,"c":4.2e-4},{"k":40.125,"c":5.2e-4},{"k":40.625,"c":3.2e-4},{"k":41.125,"c":4.5e-4},{"k":41.625,"c":2.5e-4},{"k":42.125,"c":3.9e-4},{"k":42.625,"c":5.6e-4},{"k":43.125,"c":3.0e-4},{"k":43.625,"c":4.3e-4},{"k":44.125,"c":3.6e-4},{"k":44.625,"c":4.7e-4},{"k":45.125,"c":2.8e-4},{"k":45.625,"c":4.2e-4},{"k":46.125,"c":5.2e-4},{"k":46.625,"c":3.2e-4},{"k":47.125,"c":4.5e-4},{"k":47.625,"c":2.5e-4},{"k":48.125,"c":3.9e-4},{"k":48.625,"c":5.6e-4},{"k":49.125,"c":3.0e-4},{"k":49.625,"c":4.3e-4},{"k":50.125,"c":4.05e-4},{"k":50.625,"c":5.3e-4},{"k":51.125,"c":3.15e-4},{"k":51.625,"c":4.7e-4},{"k":52.125,"c":5.85e-4},{"k":52.625,"c":3.6e-4},{"k":53.125,"c":5.0e-4},{"k":53.625,"c":2.8e-4},{"k":54.125,"c":4.4e-4},{"k":54.625,"c":6.3e-4},{"k":55.125,"c":3.4e-4},{"k":55.625,"c":4.9e-4},{"k":56.125,"c":4.05e-4},{"k":56.625,"c":5.3e-4},{"k":57.125,"c":3.15e-4},{"k":57.625,"c":4.7e-4},{"k":58.125,"c":5.85e-4},{"k":58.625,"c":3.6e-4},{"k":59.125,"c":5.0e-4},{"k":59.625,"c":2.8e-4},{"k":60.125,"c":4.4e-4},{"k":60.625,"c":6.3e-4},{"k":61.125,"c":3.4e-4},{"k":61.625,"c":4.9e-4},{"k":62.125,"c":4.05e-4},{"k":62.625,"c":5.3e-4},{"k":63.125,"c":3.15e-4},{"k":63.625,"c":4.7e-4},{"k":64.125,"c":5.85e-4},{"k":64.625,"c":3.6e-4},{"k":65.125,"c":5.0e-4},{"k":65.625,"c":2.8e-4},{"k":66.125,"c":4.4e-4},{"k":66.625,"c":6.3e-4},{"k":67.125,"c":3.4e-4},{"k":67.625,"c":4.9e-4},{"k":68.125,"c":4.05e-4},{"k":68.625,"c":5.3e-4},{"k":69.125,"c":3.15e-4},{"k":69.625,"c":4.7e-4},{"k":70.125,"c":5.85e-4},{"k":70.625,"c":3.6e-4},{"k":71.125,"c":5.0e-4},{"k":71.625,"c":2.8e-4},{"k":72.125,"c":4.4e-4},{"k":72.625,"c":6.3e-4},{"k":73.125,"c":3.4e-4},{"k":73.625,"c":4.9e-4},{"k":74.125,"c":4.05e-4},{"k":74.625,"c":5.3e-4},{"k":75.125,"c":3.15e-4},{"k":75.625,"c":4.7e-4},{"k":76.125,"c":5.85e-4},{"k":76.625,"c":3.6e-4},{"k":77.125,"c":5.0e-4},{"k":77.625,"c":2.8e-4},{"k":78.125,"c":4.4e-4},{"k":78.625,"c":6.3e-4},{"k":79.125,"c":3.4e-4},{"k":79.625,"c":4.9e-4},{"k":80.125,"c":4.05e-4},{"k":80.625,"c":5.3e-4},{"k":81.125,"c":3.15e-4},{"k":81.625,"c":4.7e-4},{"k":82.125,"c":5.85e-4},{"k":82.625,"c":3.6e-4},{"k":83.125,"c":5.0e-4},{"k":83.625,"c":2.8e-4},{"k":84.125,"c":4.4e-4},{"k":84.625,"c":6.3e-4},{"k":85.125,"c":3.4e-4},{"k":85.625,"c":4.9e-4},{"k":86.125,"c":4.05e-4},{"k":86.625,"c":5.3e-4},{"k":87.125,"c":3.15e-4},{"k":87.625,"c":4.7e-4},{"k":88.125,"c":5.85e-4},{"k":88.625,"c":3.6e-4},{"k":89.125,"c":5.0e-4},{"k":89.625,"c":2.8e-4},{"k":90.125,"c":4.4e-4},{"k":90.625,"c":6.3e-4},{"k":91.125,"c":3.4e-4},{"k":91.625,"c":4.9e-4},{"k":92.125,"c":4.05e-4},{"k":92.625,"c":5.3e-4},{"k":93.125,"c":3.15e-4},{"k":93.625,"c":4.7e-4},{"k":94.125,"c":5.85e-4},{"k":94.625,"c":3.6e-4},{"k":95.125,"c":5.0e-4},{"k":95.625,"c":2.8e-4},{"k":96.125,"c":4.4e-4},{"k":96.625,"c":6.3e-4},{"k":97.125,"c":3.4e-4},{"k":97.625,"c":4.9e-4},{"k":98.125,"c":4.05e-4},{"k":98.625,"c":5.3e-4},{"k":99.125,"c":3.15e-4},{"k":99.625,"c":4.7e-4},{"k":100.125,"c":3.8e-4},{"k":100.625,"c":5.0e-4},{"k":101.125,"c":2.9e-4},{"k":101.625,"c":4.4e-4},{"k":102.125,"c":5.5e-4},{"k":102.625,"c":3.4e-4},{"k":103.125,"c":4.7e-4},{"k":103.625,"c":2.6e-4},{"k":104.125,"c":4.1e-4},{"k":104.625,"c":5.9e-4},{"k":105.125,"c":3.15e-4},{"k":105.625,"c":4.5e-4},{"k":106.125,"c":3.8e-4},{"k":106.625,"c":5.0e-4},{"k":107.125,"c":2.9e-4},{"k":107.625,"c":4.4e-4},{"k":108.125,"c":5.5e-4},{"k":108.625,"c":3.4e-4},{"k":109.125,"c":4.7e-4},{"k":109.625,"c":2.6e-4},{"k":110.125,"c":4.1e-4},{"k":110.625,"c":5.9e-4}
]
},
"vconcat": [
{"width": 615, "height": 205, "layer": [
 {"data": {"name": "fe"}, "mark": {"type": "circle", "size": 130, "color": "#2a2a2a", "opacity": 1},
  "encoding": {
   "x": {"field": "k", "type": "quantitative", "scale": {"domain": [0, 120], "nice": false}, "axis": null},
   "y": {"field": "c", "type": "quantitative", "scale": {"type": "log", "domain": [0.0001, 0.01]}, "axis": {"values": [0.0001, 0.001, 0.01], "format": ".4~f", "title": null, "labelPadding": 10}}}},
 {"data": {"values": [{"label": "Fe"}]}, "mark": {"type": "text", "align": "left", "baseline": "middle", "font": "Liberation Sans", "fontWeight": "bold", "fontSize": 22, "color": "#1a1a1a"},
  "encoding": {"x": {"datum": 2.5}, "y": {"datum": 0.0043}, "text": {"field": "label"}}}
]},
{"width": 615, "height": 205, "layer": [
 {"data": {"name": "fepb"}, "mark": {"type": "circle", "size": 130, "color": "#2a2a2a", "opacity": 1},
  "encoding": {
   "x": {"field": "k", "type": "quantitative", "scale": {"domain": [0, 120], "nice": false}, "axis": null},
   "y": {"field": "c", "type": "quantitative", "scale": {"type": "log", "domain": [0.0001, 0.01]}, "axis": {"values": [0.0001, 0.001], "format": ".4~f", "title": "Count Rate (s⁻¹)", "titleAnchor": "start", "titleAlign": "center", "titlePadding": 21, "labelPadding": 10}}}},
 {"data": {"values": [{"label": "Fe/Pb"}]}, "mark": {"type": "text", "align": "left", "baseline": "middle", "font": "Liberation Sans", "fontWeight": "bold", "fontSize": 22, "color": "#1a1a1a"},
  "encoding": {"x": {"datum": 2.0}, "y": {"datum": 0.0047}, "text": {"field": "label"}}}
]},
{"width": 615, "height": 205, "layer": [
 {"data": {"name": "fepbcd"}, "mark": {"type": "circle", "size": 130, "color": "#2a2a2a", "opacity": 1},
  "encoding": {
   "x": {"field": "k", "type": "quantitative", "scale": {"domain": [0, 120], "nice": false}, "axis": null},
   "y": {"field": "c", "type": "quantitative", "scale": {"type": "log", "domain": [0.0001, 0.01]}, "axis": {"values": [0.0001, 0.001], "format": ".4~f", "title": null, "labelPadding": 10}}}},
 {"data": {"values": [{"label": "Fe/Pb + Cd"}]}, "mark": {"type": "text", "align": "left", "baseline": "middle", "font": "Liberation Sans", "fontWeight": "bold", "fontSize": 22, "color": "#1a1a1a"},
  "encoding": {"x": {"datum": 1.8}, "y": {"datum": 0.0046}, "text": {"field": "label"}}}
]},
{"width": 615, "height": 205, "layer": [
 {"data": {"name": "fepbcdcu"}, "mark": {"type": "circle", "size": 130, "color": "#2a2a2a", "opacity": 1},
  "encoding": {
   "x": {"field": "k", "type": "quantitative", "scale": {"domain": [0, 120], "nice": false}, "axis": {"values": [0, 20, 40, 60, 80, 100, 120], "title": "keV", "titleFontSize": 24, "labelFlush": false, "labelPadding": 15, "titlePadding": 11}},
   "y": {"field": "c", "type": "quantitative", "scale": {"type": "log", "domain": [0.0001, 0.01]}, "axis": {"values": [0.0001, 0.001], "format": ".4~f", "title": null, "labelPadding": 10}}}},
 {"data": {"values": [{"label": "Fe/Pb + Cd + Cu"}]}, "mark": {"type": "text", "align": "left", "baseline": "middle", "font": "Liberation Sans", "fontWeight": "bold", "fontSize": 22, "color": "#1a1a1a"},
  "encoding": {"x": {"datum": 1.4}, "y": {"datum": 0.0036}, "text": {"field": "label"}}}
]}
]
}
